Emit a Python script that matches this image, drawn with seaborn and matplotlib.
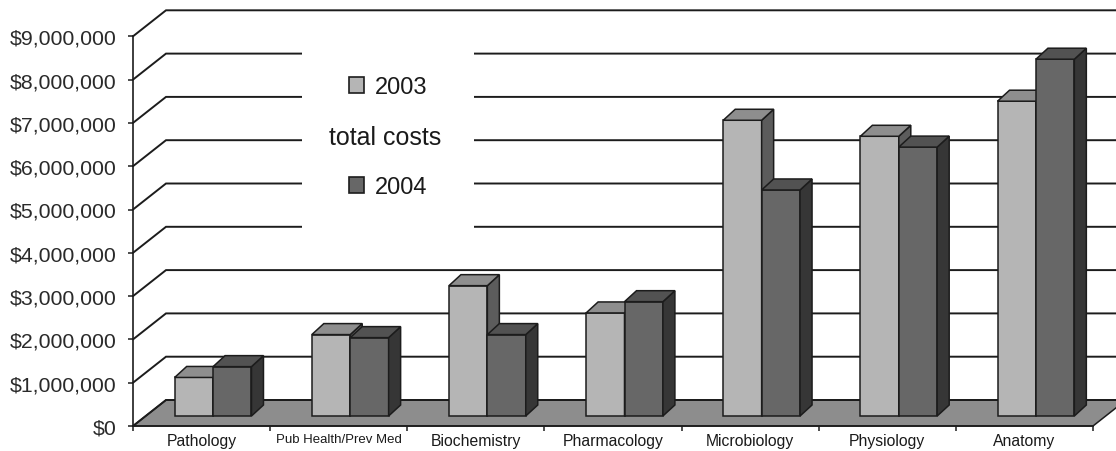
import numpy as np
import pandas as pd
import matplotlib
matplotlib.use("Agg")
import matplotlib.pyplot as plt
from matplotlib.patches import Polygon, Patch
from matplotlib.ticker import FuncFormatter
import seaborn as sns

# ---- data -----------------------------------------------------------------
departments = ["Pathology", "Pub Health/Prev Med", "Biochemistry", "Pharmacology",
               "Microbiology", "Physiology", "Anatomy"]
years = ["2003", "2004"]
costs_2003 = [890_000, 1_880_000, 3_010_000, 2_380_000, 6_830_000, 6_460_000, 7_270_000]
costs_2004 = [1_140_000, 1_810_000, 1_880_000, 2_640_000, 5_220_000, 6_210_000, 8_240_000]
y_ticks = [0, 1_000_000, 2_000_000, 3_000_000, 4_000_000,
           5_000_000, 6_000_000, 7_000_000, 8_000_000, 9_000_000]
legend_title = "total costs"

# ---- style ----------------------------------------------------------------
front_colors = {"2003": "#b5b5b5", "2004": "#676767"}
top_colors = {"2003": "#8e8e8e", "2004": "#525252"}
side_colors = {"2003": "#5c5c5c", "2004": "#363636"}
floor_color = "#8d8d8d"
ink = "#1c1c1c"

df = pd.DataFrame({
    "department": departments * 2,
    "year": [years[0]] * len(departments) + [years[1]] * len(departments),
    "cost": costs_2003 + costs_2004,
})

sns.set_style("white")
plt.rcParams["font.family"] = ["Liberation Sans", "DejaVu Sans"]

W, H = 1116, 452
fig = plt.figure(figsize=(W / 100, H / 100), dpi=100)
ax = fig.add_axes([133 / W, 25 / H, 960 / W, 389.7 / H])
ax.patch.set_alpha(0)

sns.barplot(data=df, x="department", y="cost", hue="year", order=departments,
            hue_order=years, palette=front_colors, width=0.56, saturation=1,
            edgecolor=ink, linewidth=1.1, legend=False, ax=ax)
n = len(departments)
ax.set_xlim(-0.5, n - 0.5)
ax.set_ylim(y_ticks[0], y_ticks[-1])


# pixel offsets for the pseudo-3D depth, expressed in data units
p0 = ax.transData.transform((0, 0))
p1 = ax.transData.transform((1, 1_000_000))
px_x = p1[0] - p0[0]
px_y = (p1[1] - p0[1]) / 1_000_000


def depth(dx_px, dy_px):
    return dx_px / px_x, dy_px / px_y


wall_dx, wall_dy = depth(33, 26)      # back wall
plane_dx, plane_dy = depth(11.5, 10)  # front face of the bar row
bar_dx, bar_dy = depth(12, 11)        # thickness of each bar

# floor
floor = Polygon([(-0.5, 0), (n - 0.5, 0), (n - 0.5 + wall_dx, wall_dy),
                 (-0.5 + wall_dx, wall_dy)], closed=True, facecolor=floor_color,
                edgecolor=ink, linewidth=1.1, zorder=1, clip_on=False)
ax.add_patch(floor)

# gridlines along side wall and back wall
for v in y_ticks:
    ax.plot([-0.5, -0.5 + wall_dx, n + 1], [v, v + wall_dy, v + wall_dy],
            color=ink, linewidth=1.4, zorder=2, clip_on=False,
            solid_joinstyle="miter")

# turn flat bars into boxes
bars = sorted([p for p in ax.patches if p is not floor], key=lambda r: r.get_x())
for i, rect in enumerate(bars):
    yr = years[i % 2]
    z = 3 + i * 0.01
    x0 = rect.get_x() + plane_dx
    w = rect.get_width()
    h = rect.get_height()
    rect.set_x(x0)
    rect.set_y(plane_dy)
    rect.set_zorder(z)
    rect.set_clip_on(False)
    yt = plane_dy + h
    top = Polygon([(x0, yt), (x0 + w, yt), (x0 + w + bar_dx, yt + bar_dy),
                   (x0 + bar_dx, yt + bar_dy)], closed=True,
                  facecolor=top_colors[yr], edgecolor=ink, linewidth=1.1,
                  zorder=z, clip_on=False)
    side = Polygon([(x0 + w, plane_dy), (x0 + w + bar_dx, plane_dy + bar_dy),
                    (x0 + w + bar_dx, yt + bar_dy), (x0 + w, yt)], closed=True,
                   facecolor=side_colors[yr], edgecolor=ink, linewidth=1.1,
                   zorder=z, clip_on=False)
    ax.add_patch(side)
    ax.add_patch(top)

# axes, ticks and labels
for s in ("top", "right"):
    ax.spines[s].set_visible(False)
for s in ("left", "bottom"):
    ax.spines[s].set_color(ink)
    ax.spines[s].set_linewidth(1.2)
    ax.spines[s].set_zorder(2.5)

ax.set_yticks(y_ticks)
ax.yaxis.set_major_formatter(FuncFormatter(lambda v, _: f"${v:,.0f}"))
ax.tick_params(axis="y", which="major", length=3.6, width=1.1, color=ink,
               direction="out", pad=8, labelsize=15.3, labelcolor="#2a2a2a", left=True)

ax.set_xticks(np.arange(-0.5, n, 1.0))
ax.set_xticklabels([])
ax.set_xticks(np.arange(n), labels=departments, minor=True)
ax.tick_params(axis="x", which="major", length=3.6, width=1.1, color=ink,
               direction="out", bottom=True)
ax.tick_params(axis="x", which="minor", length=0, pad=5, labelsize=11.3,
               labelcolor="#1a1a1a")
for lbl in ax.get_xticklabels(minor=True):
    if lbl.get_text() == "Pub Health/Prev Med":
        lbl.set_fontsize(9.5)
ax.set_xlabel("")
ax.set_ylabel("")

# legend
handles = [Patch(facecolor=front_colors[y], edgecolor=ink, linewidth=1.2) for y in years]
leg = ax.legend(handles, years, loc="center", bbox_to_anchor=(388 / W, 1 - 138 / H),
                bbox_transform=fig.transFigure, fontsize=17, frameon=True,
                facecolor="white", edgecolor="none", framealpha=1, fancybox=False,
                borderpad=2.0, labelspacing=3.3, handlelength=0.65,
                handleheight=0.65, handletextpad=0.45, borderaxespad=0)
for t in leg.get_texts():
    t.set_color("#1a1a1a")
leg.set_zorder(6)
fig.text(385 / W, 1 - 138 / H, legend_title, ha="center", va="center",
         fontsize=18, color="#1a1a1a", zorder=7)

fig.savefig("out.png", dpi=100)
